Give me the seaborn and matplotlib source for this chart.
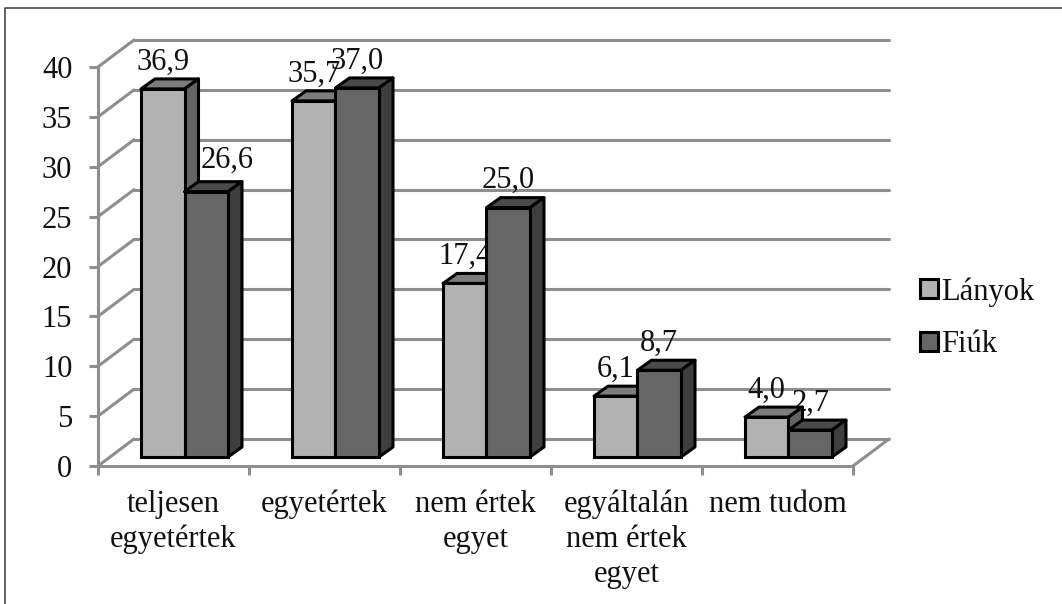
import matplotlib
matplotlib.use("Agg")
import matplotlib.pyplot as plt
import matplotlib.patches as mpatches
import matplotlib.lines as mlines
import matplotlib.transforms as mtrans
import pandas as pd
import seaborn as sns

# data
categories = ["teljesen\negyetértek", "egyetértek", "nem értek\negyet",
              "egyáltalán\nnem értek\negyet", "nem tudom"]
lanyok = [36.9, 35.7, 17.4, 6.1, 4.0]
fiuk   = [26.6, 37.0, 25.0, 8.7, 2.7]
y_ticks = [0, 5, 10, 15, 20, 25, 30, 35, 40]

# look
W, H = 1062, 604
FRONT  = {"Lányok": "#b2b2b2", "Fiúk": "#666666"}
TOP    = {"Lányok": "#7c7c7c", "Fiúk": "#4a4a4a"}
SIDE   = {"Lányok": "#636363", "Fiúk": "#3e3e3e"}
GRID   = "#8e8e8e"
BLACK  = "#111111"
FS     = 22
LW     = 2.2

sns.set_theme(style="white")
plt.rcParams["font.family"] = ["Liberation Serif", "DejaVu Serif"]

df = pd.DataFrame({
    "cat": categories * 2,
    "val": lanyok + fiuk,
    "series": ["Lányok"] * 5 + ["Fiúk"] * 5,
})

fig = plt.figure(figsize=(W / 100, H / 100), dpi=100)
# axes box = front plane of the fake 3D chart (pixels 98-853, 67-466)
ax = fig.add_axes([98 / W, 1 - 466 / H, (853 - 98) / W, 399 / H])

sns.barplot(data=df, x="cat", y="val", hue="series", hue_order=["Lányok", "Fiúk"],
            palette=FRONT, saturation=1, width=0.576, gap=0, errorbar=None,
            edgecolor="black", linewidth=LW, ax=ax, zorder=5)
ax.set_xlim(-0.5, 4.5)
ax.set_ylim(0, 40)
ax.set_xlabel("")
ax.set_ylabel("")


def px(dx, dy):
    # data coords shifted by some screen pixels
    return ax.transData + mtrans.Affine2D().translate(dx, dy)


# back wall grid and side wall diagonals
back = px(36, 27)
for v in y_ticks:
    ax.plot([-0.5, 4.5], [v, v], color=GRID, lw=LW, transform=back, clip_on=False, zorder=1)
    p0 = ax.transData.transform((-0.5, v))
    ax.plot([p0[0], p0[0] + 36], [p0[1], p0[1] + 27], color=GRID, lw=LW,
            transform=None, clip_on=False, zorder=1)
p1 = ax.transData.transform((4.5, 0))
ax.plot([p1[0], p1[0] + 36], [p1[1], p1[1] + 27], color=GRID, lw=LW,
        transform=None, clip_on=False, zorder=1)

# bars sit 11 px right and 9 px up of the front plane, with side and top faces
shift = px(11, 9)
DX, DY = 14, 10
labels_nudge = {26.6: (21, 4)}
z = 5.0
for i in range(len(categories)):
    for cont, name in zip(ax.containers, ["Lányok", "Fiúk"]):
        bar = cont[i]
        bar.set_transform(shift)
        bar.set_clip_on(False)
        bar.set_zorder(z + 0.2)
        (x0, y0), (x1, y1) = ax.transData.transform(
            [(bar.get_x(), 0), (bar.get_x() + bar.get_width(), bar.get_height())])
        x0, x1, y0, y1 = x0 + 11, x1 + 11, y0 + 9, y1 + 9
        top = [(x0, y1), (x1, y1), (x1 + DX, y1 + DY), (x0 + DX, y1 + DY)]
        side = [(x1, y0), (x1, y1), (x1 + DX, y1 + DY), (x1 + DX, y0 + DY)]
        for pts, col in [(top, TOP[name]), (side, SIDE[name])]:
            ax.add_patch(mpatches.Polygon(pts, closed=True, facecolor=col, edgecolor="black",
                                          lw=LW, transform=None, clip_on=False,
                                          joinstyle="round", zorder=z))
        val = bar.get_height()
        nx, ny = labels_nudge.get(val, (0, 0))
        ax.text(bar.get_x() + bar.get_width() / 2, val,
                f"{val:.1f}".replace(".", ","), ha="center", va="center", fontsize=FS,
                color=BLACK, transform=px(11 + nx, 9 + 27 + ny), clip_on=False, zorder=2)
        z += 1

# axes and ticks
sns.despine(ax=ax, top=True, right=True)
for s in ["left", "bottom"]:
    ax.spines[s].set_color(GRID)
    ax.spines[s].set_linewidth(LW)
ax.set_yticks(y_ticks)
ax.set_yticklabels([str(v) for v in y_ticks], fontsize=FS, color=BLACK)
ax.tick_params(axis="y", length=6.5, width=LW, color=GRID, pad=12, left=True)
ax.set_xticks([i - 0.5 for i in range(len(categories) + 1)])
ax.set_xticklabels([])
ax.set_xticks(range(len(categories)), labels=categories, minor=True, fontsize=FS,
              color=BLACK, linespacing=1.27)
ax.tick_params(axis="x", which="major", length=6.5, width=LW, color=GRID, bottom=True)
ax.tick_params(axis="x", which="minor", length=0, pad=17, bottom=False)

# legend
handles, labs = ax.get_legend_handles_labels()
ax.legend(handles, labs, loc="upper left", bbox_to_anchor=(920 / W, 1 - 277 / H),
          bbox_transform=fig.transFigure, frameon=False, fontsize=FS, handlelength=0.58,
          handleheight=0.58, handletextpad=0.12, labelspacing=0.78, borderpad=0,
          borderaxespad=0, labelcolor=BLACK)

# picture border: only left and top are in the crop
fig.add_artist(mlines.Line2D([5 / W, 5 / W, 1], [0, 1 - 8 / H, 1 - 8 / H], color="#555555",
                             lw=1.3, transform=fig.transFigure))

fig.savefig("out.png", dpi=100)
